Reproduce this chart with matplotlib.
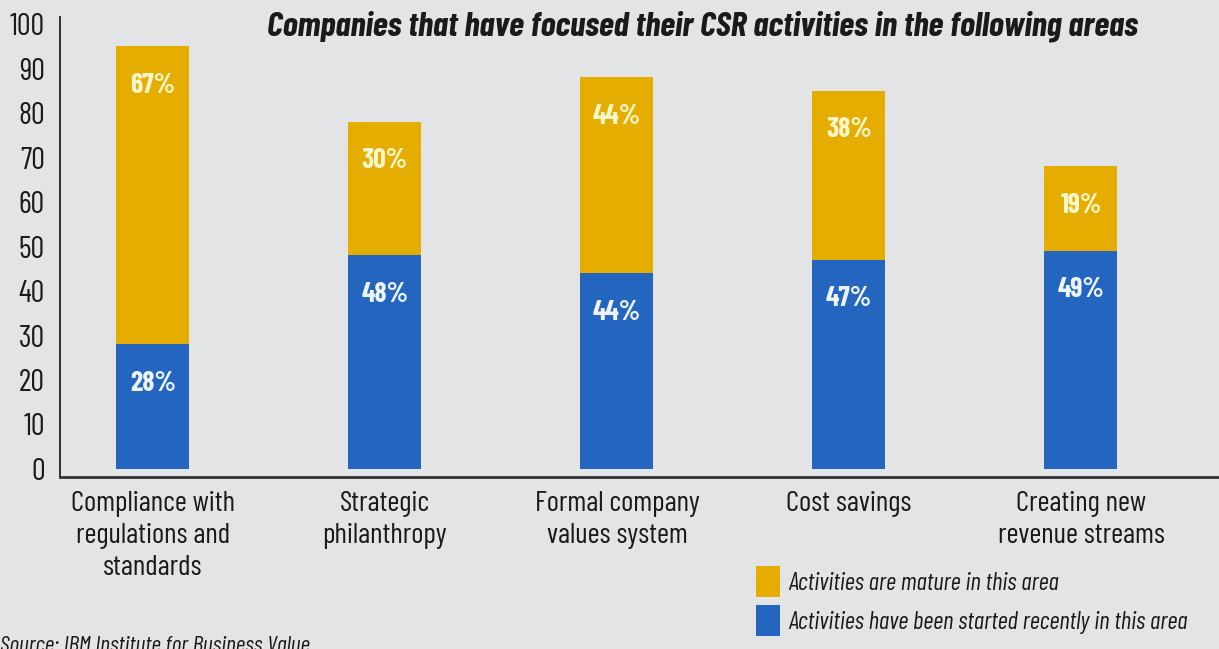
import matplotlib
matplotlib.use("Agg")
import matplotlib.pyplot as plt
from matplotlib.patches import Patch
import numpy as np

# ---- data -------------------------------------------------------------
categories = [
    "Compliance with\nregulations and\nstandards",
    "Strategic\nphilanthropy",
    "Formal company\nvalues system",
    "Cost savings",
    "Creating new\nrevenue streams",
]
started_recently = [28, 48, 44, 47, 49]
mature = [67, 30, 44, 38, 19]
y_ticks = [0, 10, 20, 30, 40, 50, 60, 70, 80, 90, 100]

title = "Companies that have focused their CSR activities in the following areas"
legend_labels = ["Activities are mature in this area",
                 "Activities have been started recently in this area"]
source = "Source: IBM Institute for Business Value"

# ---- style ------------------------------------------------------------
BG = "#e3e4e6"
YELLOW = "#e5ad00"
BLUE = "#2465bf"
FONT = ["Barlow Condensed", "DejaVu Sans"]
INK = "#1a1a1a"

plt.rcParams["font.family"] = FONT

fig = plt.figure(figsize=(12.19, 6.49), dpi=100, facecolor=BG)
ax = fig.add_axes([60 / 1219, 1 - 477 / 649, 1 - 60 / 1219, 477 / 649])
ax.set_facecolor(BG)

x = np.arange(len(categories))
width = 0.315

ax.bar(x, started_recently, width, color=BLUE, linewidth=0)
ax.bar(x, mature, width, bottom=started_recently, color=YELLOW, linewidth=0)

# value labels just under the top of each segment
for xi, s, m in zip(x, started_recently, mature):
    ax.annotate(f"{s}%", (xi, s), xytext=(0, -28), textcoords="offset points",
                ha="center", va="center", fontsize=20, fontweight="bold",
                color="#eef4ff")
    ax.annotate(f"{m}%", (xi, s + m), xytext=(0, -28),
                textcoords="offset points", ha="center", va="center",
                fontsize=20, fontweight="bold", color="#fff6cc")

ax.set_xlim(-0.40, 4.595)
ax.set_ylim(-1.8, 105.4)
ax.set_yticks(y_ticks)
ax.set_yticklabels([str(t) for t in y_ticks], fontsize=22, color=INK)
ax.tick_params(axis="y", length=0, pad=11)
ax.set_xticks(x)
ax.set_xticklabels(categories, fontsize=21, color=INK, va="top",
                   linespacing=1.3)
ax.tick_params(axis="x", length=0, pad=10)

for side in ("top", "right"):
    ax.spines[side].set_visible(False)
ax.spines["left"].set_color("#222222")
ax.spines["left"].set_linewidth(1.3)
ax.spines["left"].set_bounds(-1.8, 101.6)
ax.spines["bottom"].set_color("#333333")
ax.spines["bottom"].set_linewidth(2.0)

fig.text(702 / 1219, 1 - 26 / 649, title, ha="center", va="center",
         fontsize=25, fontweight="bold", fontstyle="italic", color=INK)

handles = [Patch(facecolor=YELLOW, edgecolor="none"),
           Patch(facecolor=BLUE, edgecolor="none")]
fig.legend(handles, legend_labels, loc="upper left",
           bbox_to_anchor=(756 / 1219, 1 - 566 / 649), frameon=False,
           prop={"family": FONT, "style": "italic", "size": 18},
           handlelength=0.95, handleheight=1.55, handletextpad=0.35,
           labelspacing=0.3, borderpad=0, borderaxespad=0, labelcolor=INK)

fig.text(0 / 1219, 1 - 636 / 649, source, ha="left", va="top", fontsize=17,
         fontstyle="italic", color=INK)

fig.savefig("out.png", dpi=100, facecolor=BG)
